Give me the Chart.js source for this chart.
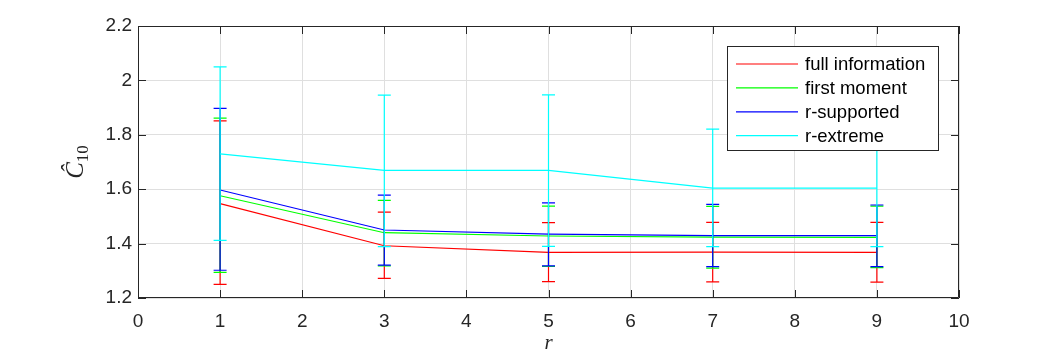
<!DOCTYPE html>
<html lang="en">
<head>
  <meta charset="UTF-8">
  <title>C10 vs r</title>
  <script src="https://cdn.jsdelivr.net/npm/chart.js"></script>
  <style>
    body { margin: 0; background: #fff; }
    #wrap { width: 1063px; height: 355px; }
  </style>
</head>
<body>
  <div id="wrap"><canvas id="chart"></canvas></div>
  <script>
    const rValues = [1, 3, 5, 7, 9];
    const xTicks = [0, 1, 2, 3, 4, 5, 6, 7, 8, 9, 10];
    const yTicks = [1.2, 1.4, 1.6, 1.8, 2, 2.2];

    const fullInfo     = [1.547, 1.392, 1.368, 1.369, 1.368];
    const fullInfoLow  = [1.250, 1.272, 1.260, 1.259, 1.258];
    const fullInfoHigh = [1.851, 1.516, 1.477, 1.478, 1.478];

    const firstMoment     = [1.576, 1.440, 1.428, 1.424, 1.423];
    const firstMomentLow  = [1.294, 1.318, 1.316, 1.310, 1.312];
    const firstMomentHigh = [1.861, 1.559, 1.538, 1.537, 1.538];

    const rSupported     = [1.597, 1.450, 1.435, 1.429, 1.429];
    const rSupportedLow  = [1.302, 1.321, 1.318, 1.315, 1.315];
    const rSupportedHigh = [1.897, 1.578, 1.550, 1.544, 1.542];

    const rExtreme     = [1.730, 1.669, 1.669, 1.604, 1.604];
    const rExtremeLow  = [1.412, 1.389, 1.390, 1.389, 1.389];
    const rExtremeHigh = [2.050, 1.946, 1.947, 1.821, 1.820];

    const seriesLabels = ['full information', 'first moment', 'r-supported', 'r-extreme'];
    const seriesColors = ['#ff0000', '#00ff00', '#0000ff', '#00ffff'];

    const axisColor = '#262626';
    const tickFont = { family: 'Liberation Sans, Arial, sans-serif', size: 19 };

    function makeDataset(i, values, low, high) {
      return {
        label: seriesLabels[i],
        data: rValues.map((r, k) => ({ x: r, y: values[k] })),
        low: low,
        high: high,
        borderColor: seriesColors[i],
        backgroundColor: seriesColors[i],
        borderWidth: 1.2,
        pointRadius: 0,
        tension: 0,
        fill: false,
        order: 4 - i
      };
    }

    // error bars drawn right after each series so cyan ends up on top
    const errorBars = {
      id: 'errorBars',
      afterDatasetDraw(chart, args) {
        const ds = chart.data.datasets[args.index];
        const xs = chart.scales.x, ys = chart.scales.y;
        const ctx = chart.ctx;
        ctx.save();
        ctx.strokeStyle = ds.borderColor;
        ctx.lineWidth = 1.2;
        rValues.forEach((r, k) => {
          const px = xs.getPixelForValue(r);
          const lo = ys.getPixelForValue(ds.low[k]);
          const hi = ys.getPixelForValue(ds.high[k]);
          ctx.beginPath();
          ctx.moveTo(px, lo); ctx.lineTo(px, hi);
          ctx.moveTo(px - 6.5, lo); ctx.lineTo(px + 6.5, lo);
          ctx.moveTo(px - 6.5, hi); ctx.lineTo(px + 6.5, hi);
          ctx.stroke();
        });
        ctx.restore();
      }
    };

    // matlab-like box, inward ticks, axis titles and legend
    const frame = {
      id: 'frame',
      afterDraw(chart) {
        const ctx = chart.ctx;
        const a = chart.chartArea;
        const xs = chart.scales.x, ys = chart.scales.y;
        ctx.save();
        ctx.strokeStyle = axisColor;
        ctx.lineWidth = 1;
        ctx.beginPath();
        ctx.rect(a.left + 0.5, a.top + 0.5, a.right - a.left - 1, a.bottom - a.top - 1);
        const tl = 8;
        xTicks.forEach(v => {
          const px = Math.round(xs.getPixelForValue(v)) + 0.5;
          ctx.moveTo(px, a.bottom); ctx.lineTo(px, a.bottom - tl);
          ctx.moveTo(px, a.top); ctx.lineTo(px, a.top + tl);
        });
        yTicks.forEach(v => {
          const py = Math.round(ys.getPixelForValue(v)) + 0.5;
          ctx.moveTo(a.left, py); ctx.lineTo(a.left + tl, py);
          ctx.moveTo(a.right, py); ctx.lineTo(a.right - tl, py);
        });
        ctx.stroke();

        // axis titles
        ctx.fillStyle = axisColor;
        ctx.textAlign = 'center';
        ctx.textBaseline = 'middle';
        ctx.font = 'italic 21px "Liberation Serif", "DejaVu Serif", serif';
        ctx.fillText('r', (a.left + a.right) / 2, 343);

        ctx.translate(76, (a.top + a.bottom) / 2);
        ctx.rotate(-Math.PI / 2);
        ctx.textAlign = 'left';
        ctx.textBaseline = 'alphabetic';
        ctx.font = 'italic 25px "Liberation Serif", "DejaVu Serif", serif';
        const cw = ctx.measureText('Ĉ').width;
        ctx.font = '17px "Liberation Serif", "DejaVu Serif", serif';
        const sw = ctx.measureText('10').width;
        const x0 = -(cw + sw) / 2;
        ctx.font = 'italic 25px "Liberation Serif", "DejaVu Serif", serif';
        ctx.fillText('Ĉ', x0, 7);
        ctx.font = '17px "Liberation Serif", "DejaVu Serif", serif';
        ctx.fillText('10', x0 + cw, 12);
        ctx.restore();

        // legend
        ctx.save();
        const lx = a.right - 232, ly = a.top + 20, lw = 211, lh = 104;
        ctx.fillStyle = '#ffffff';
        ctx.fillRect(lx, ly, lw, lh);
        ctx.strokeStyle = axisColor;
        ctx.lineWidth = 1;
        ctx.strokeRect(lx + 0.5, ly + 0.5, lw, lh);
        ctx.font = '18.5px "Liberation Sans", Arial, sans-serif';
        ctx.textBaseline = 'middle';
        ctx.textAlign = 'left';
        chart.data.datasets.forEach((ds, i) => {
          const ry = ly + 18 + i * 23.9;
          ctx.strokeStyle = ds.borderColor;
          ctx.lineWidth = 1.2;
          ctx.beginPath();
          ctx.moveTo(lx + 9, ry); ctx.lineTo(lx + 71, ry);
          ctx.stroke();
          ctx.fillStyle = '#000000';
          ctx.fillText(ds.label, lx + 78, ry + 1);
        });
        ctx.restore();
      }
    };

    new Chart(document.getElementById('chart'), {
      type: 'line',
      data: {
        datasets: [
          makeDataset(0, fullInfo, fullInfoLow, fullInfoHigh),
          makeDataset(1, firstMoment, firstMomentLow, firstMomentHigh),
          makeDataset(2, rSupported, rSupportedLow, rSupportedHigh),
          makeDataset(3, rExtreme, rExtremeLow, rExtremeHigh)
        ]
      },
      options: {
        responsive: true,
        maintainAspectRatio: false,
        animation: false,
        layout: { padding: { left: 0, top: 26, right: 104, bottom: 0 } },
        plugins: {
          legend: { display: false },
          tooltip: { enabled: false }
        },
        scales: {
          x: {
            type: 'linear',
            min: 0, max: 10,
            afterBuildTicks: s => { s.ticks = xTicks.map(v => ({ value: v })); },
            afterFit: s => { s.height = 57; },
            grid: { color: '#dfdfdf', drawTicks: false },
            border: { display: false },
            ticks: { color: axisColor, font: tickFont, padding: 12, maxRotation: 0, callback: v => String(v) }
          },
          y: {
            type: 'linear',
            min: 1.2, max: 2.2,
            afterBuildTicks: s => { s.ticks = yTicks.map(v => ({ value: v })); },
            afterFit: s => { s.width = 138; },
            grid: { color: '#dfdfdf', drawTicks: false },
            border: { display: false },
            ticks: { color: axisColor, font: tickFont, padding: 6, callback: v => String(v) }
          }
        }
      },
      plugins: [errorBars, frame]
    });
  </script>
</body>
</html>
